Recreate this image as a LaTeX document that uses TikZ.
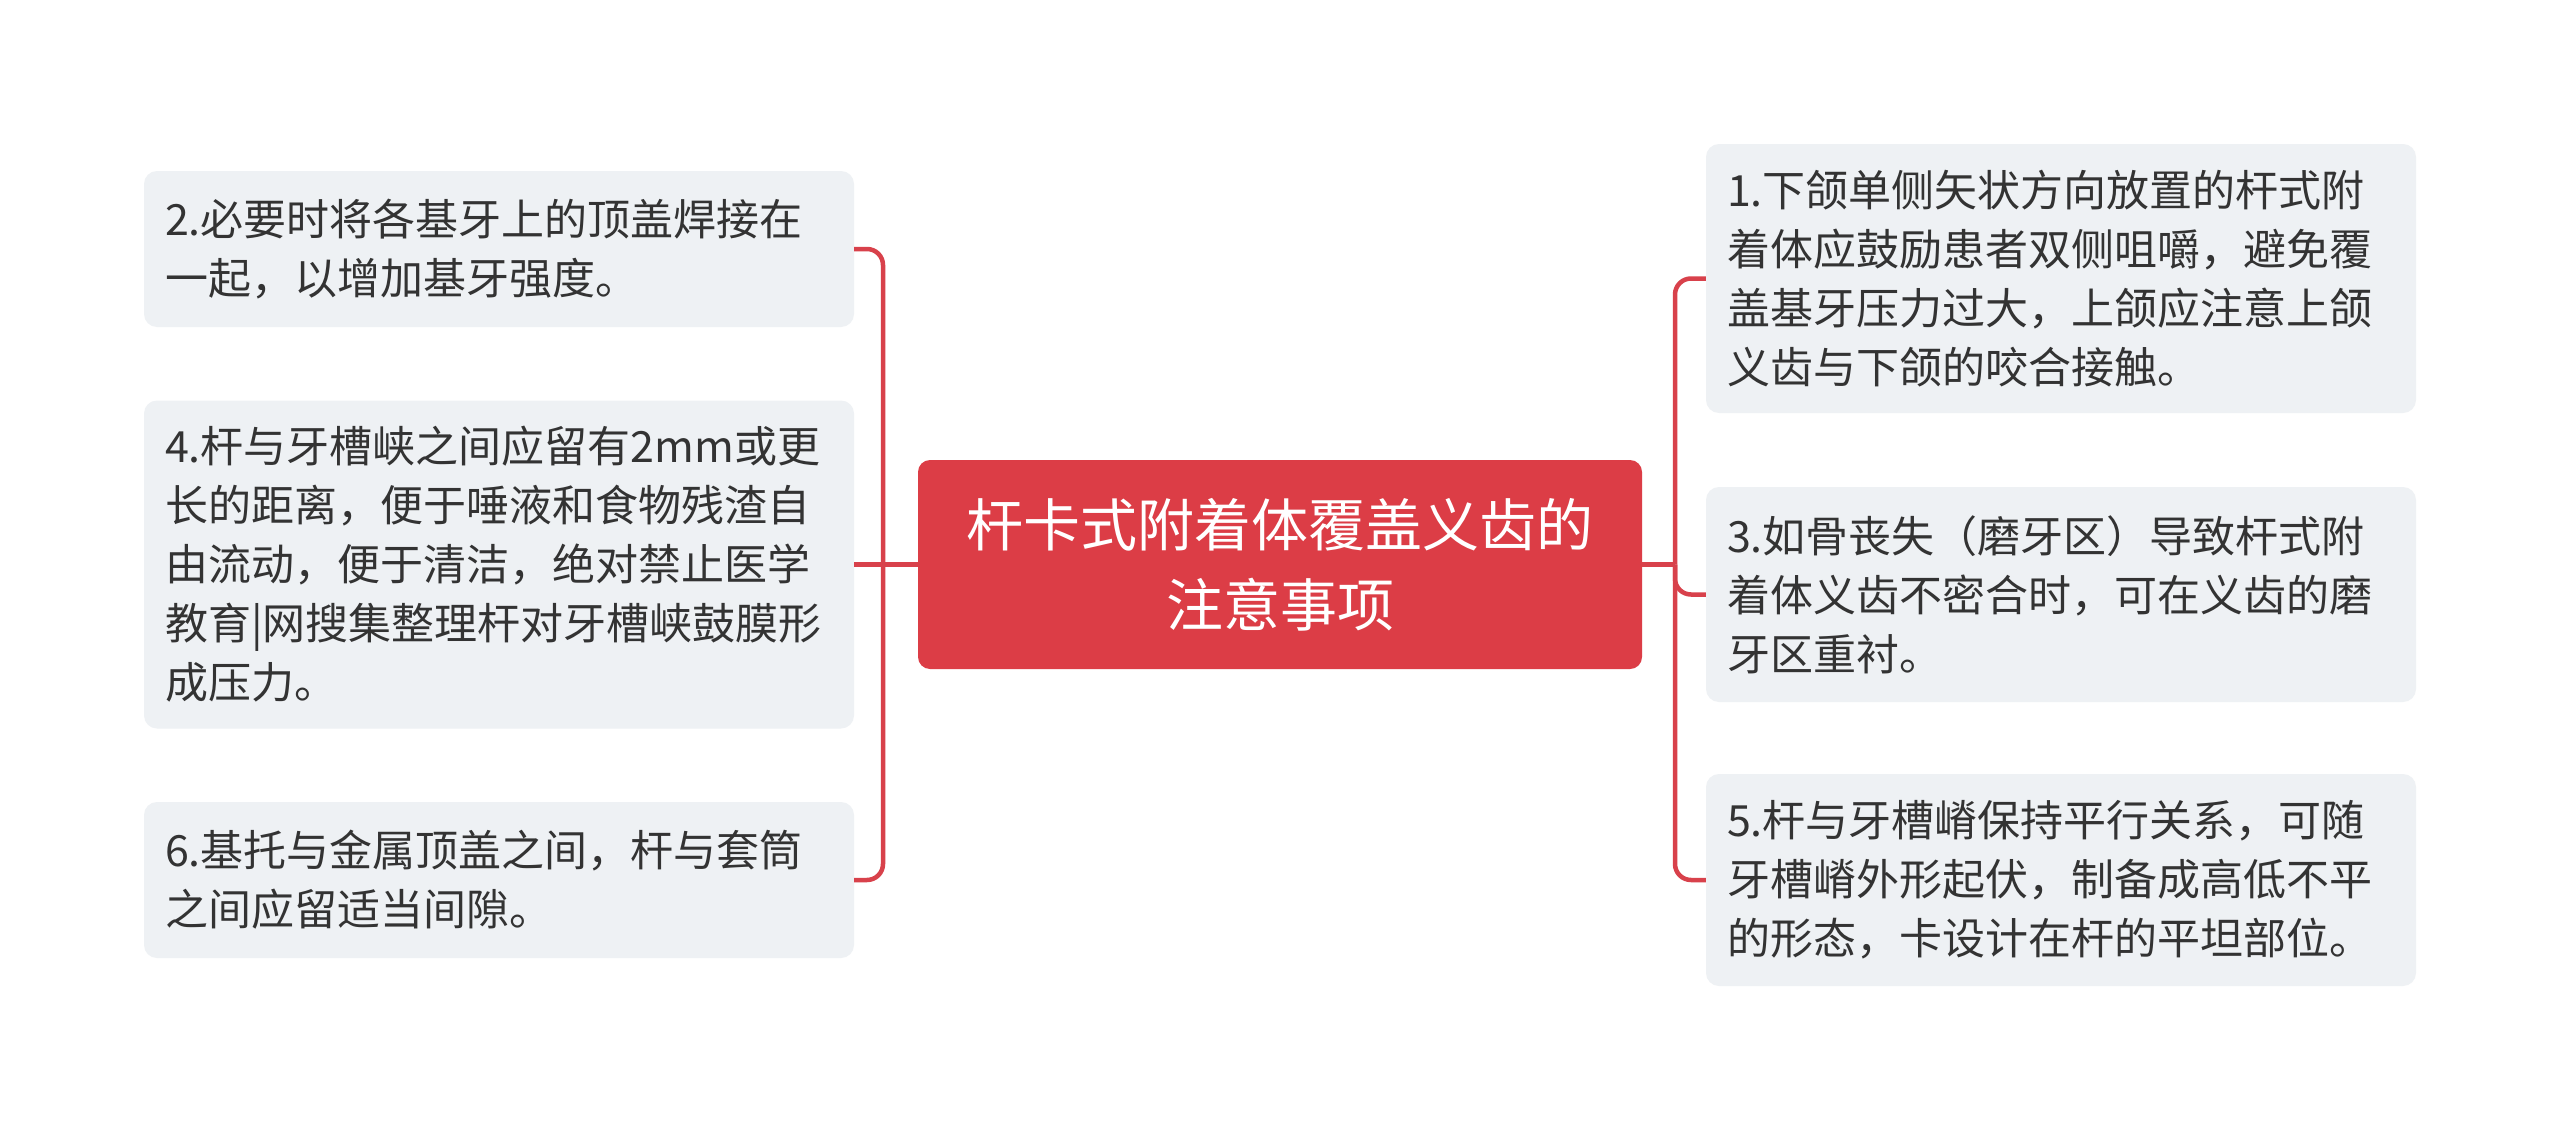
\documentclass[tikz,border=0pt]{standalone}
\usepackage{fontspec}
\setmainfont{Noto Sans CJK SC}
\definecolor{leafbg}{HTML}{EEF1F4}
\definecolor{rootbg}{HTML}{DC3D46}
\definecolor{linecol}{HTML}{D8414B}
\definecolor{txt}{HTML}{333333}
\begin{document}
\begin{tikzpicture}[x=1pt,y=-1pt,
  leaf/.style={fill=leafbg, rounded corners=13pt, text=txt, font=\fontsize{43}{59}\selectfont,
    align=left, text width=668pt, inner xsep=21pt, inner ysep=0pt, minimum width=710pt},
  root/.style={fill=rootbg, rounded corners=12pt, text=white, font=\fontsize{57}{80}\selectfont,
    align=center, minimum width=724pt, minimum height=209pt, inner sep=0pt},
  conn/.style={draw=linecol, line width=4.5pt, rounded corners=16pt}]
\useasboundingbox (0,0) rectangle (2560,1132);
\fill[white] (0,0) rectangle (2560,1132);

\node[root] (c) at (1280,564.5) {杆卡式附着体覆盖义齿的\\注意事项};

\node[leaf, minimum height=156pt] (b2) at (499,249) {2.必要时将各基牙上的顶盖焊接在\\一起，以增加基牙强度。};
\node[leaf, minimum height=328pt] (b4) at (499,564.5) {4.杆与牙槽峡之间应留有2mm或更\\长的距离，便于唾液和食物残渣自\\由流动，便于清洁，绝对禁止医学\\教育|网搜集整理杆对牙槽峡鼓膜形\\成压力。};
\node[leaf, minimum height=156pt] (b6) at (499,880) {6.基托与金属顶盖之间，杆与套筒\\之间应留适当间隙。};

\node[leaf, minimum height=269pt] (b1) at (2061,278.5) {1.下颌单侧矢状方向放置的杆式附\\着体应鼓励患者双侧咀嚼，避免覆\\盖基牙压力过大，上颌应注意上颌\\义齿与下颌的咬合接触。};
\node[leaf, minimum height=215pt] (b3) at (2061,594.5) {3.如骨丧失（磨牙区）导致杆式附\\着体义齿不密合时，可在义齿的磨\\牙区重衬。};
\node[leaf, minimum height=212pt] (b5) at (2061,880) {5.杆与牙槽嵴保持平行关系，可随\\牙槽嵴外形起伏，制备成高低不平\\的形态，卡设计在杆的平坦部位。};

\coordinate (lj) at (883,564.5);
\coordinate (rj) at (1675,564.5);

\draw[conn] (c.west) -- (lj);
\draw[conn] (lj) |- (b2.east);
\draw[conn] (lj) -- (b4.east);
\draw[conn] (lj) |- (b6.east);

\draw[conn] (c.east) -- (rj);
\draw[conn] (rj) |- (b1.west);
\draw[conn] (rj) |- (b3.west);
\draw[conn] (rj) |- (b5.west);
\end{tikzpicture}
\end{document}
